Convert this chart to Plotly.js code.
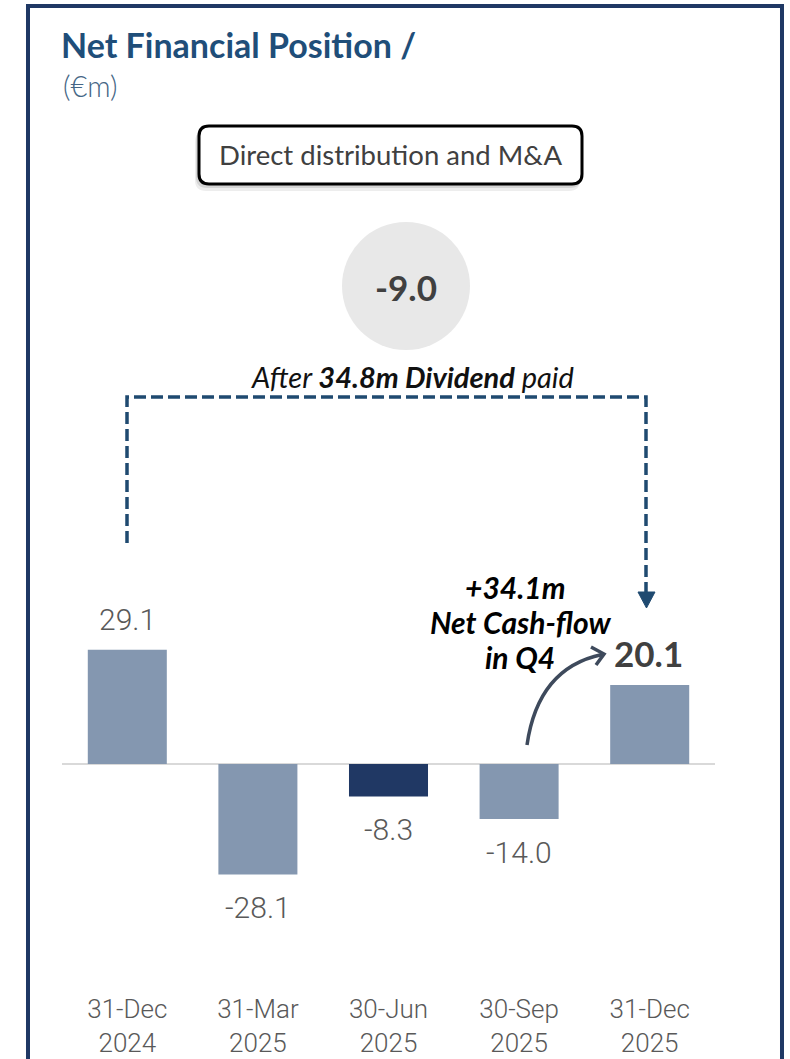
<!DOCTYPE html>
<html>
<head>
<meta charset="utf-8">
<script src="https://cdn.plot.ly/plotly-3.0.1.min.js"></script>
<style>html,body{margin:0;padding:0;background:#fff;}#chart{width:790px;height:1059px;}</style>
</head>
<body>
<div id="chart"></div>
<script>
// ---- data ----
const categories = ['31-Dec<br>2024', '31-Mar<br>2025', '30-Jun<br>2025', '30-Sep<br>2025', '31-Dec<br>2025'];
const values = [29.1, -28.1, -8.3, -14.0, 20.1];
const valueLabels = ['29.1', '-28.1', '-8.3', '-14.0', '20.1'];
const titleText = 'Net Financial Position /';
const unitText = '(€m)';
const boxText = 'Direct distribution and M&A';
const circleValue = '-9.0';
const dividendText = '<i>After <b>34.8m Dividend</b> paid</i>';
const cashflowLines = ['+34.1m', 'Net Cash-flow', 'in Q4'];

// ---- layout helpers (pixel -> paper) ----
const W = 790, H = 1059;
const X = px => px / W;
const Y = py => 1 - py / H;
function path(cmds) {
  return cmds.map(c => {
    const l = c[0];
    if (l === 'Z') return 'Z';
    if (l === 'H') return 'H' + X(c[1]).toFixed(5);
    if (l === 'V') return 'V' + Y(c[1]).toFixed(5);
    const pts = [];
    for (let i = 1; i < c.length; i += 2) pts.push(X(c[i]).toFixed(5) + ',' + Y(c[i + 1]).toFixed(5));
    return l + pts.join(' ');
  }).join(' ');
}
function roundRect(x0, y0, x1, y1, r) {
  return path([['M', x0 + r, y0], ['H', x1 - r], ['Q', x1, y0, x1, y0 + r], ['V', y1 - r],
    ['Q', x1, y1, x1 - r, y1], ['H', x0 + r], ['Q', x0, y1, x0, y1 - r], ['V', y0 + r],
    ['Q', x0, y0, x0 + r, y0], ['Z']]);
}

const zeroPx = 764, plotBottomPx = 991, pxPerUnit = 3.93;
const yMax = zeroPx / pxPerUnit;
const yMin = -(plotBottomPx - zeroPx) / pxPerUnit;

const lightBar = '#8497b0', darkBar = '#203864';
const barColors = values.map((v, i) => i === 2 ? darkBar : lightBar);

const light = 'Roboto, Lato, sans-serif';
const lato = 'Lato, Open Sans, sans-serif';

const trace = {
  type: 'bar',
  x: categories,
  y: values,
  marker: {color: barColors, line: {width: 0}},
  hoverinfo: 'skip'
};

const valueAnnotations = values.map((v, i) => {
  const last = i === values.length - 1;
  return {
    x: categories[i], y: v, xref: 'x', yref: 'y',
    text: last ? '<b>' + valueLabels[i] + '</b>' : valueLabels[i],
    showarrow: false, xanchor: 'center', yanchor: 'middle',
    xshift: last ? -1 : 0,
    yshift: v >= 0 ? (last ? 32 : 30) : -33,
    font: last ? {family: lato, size: 35, color: '#404040'} : {family: light, size: 30, weight: 300, color: '#595959'}
  };
});

const shapes = [
  {type: 'path', xref: 'paper', yref: 'paper', path: path([['M', 28, 1080], ['V', 6], ['H', 782], ['V', 1080]]),
    line: {color: '#1f3864', width: 4}},
  {type: 'path', xref: 'paper', yref: 'paper', path: roundRect(195, 131, 580, 191, 11), fillcolor: 'rgba(0,0,0,0.07)', line: {width: 0}},
  {type: 'path', xref: 'paper', yref: 'paper', path: roundRect(196, 129, 581, 188, 11), fillcolor: 'rgba(0,0,0,0.10)', line: {width: 0}},
  {type: 'path', xref: 'paper', yref: 'paper', path: roundRect(199, 126, 582, 184, 10), fillcolor: '#ffffff', line: {color: '#000000', width: 3}},
  {type: 'circle', xref: 'paper', yref: 'paper', x0: X(342), x1: X(470), y0: Y(350), y1: Y(222), fillcolor: '#e8e8e8', line: {width: 0}},
  {type: 'path', xref: 'paper', yref: 'paper', path: path([['M', 127, 543], ['V', 397], ['H', 646], ['V', 594]]),
    line: {color: '#1f4a70', width: 3.5, dash: '12px,5px'}},
  {type: 'path', xref: 'paper', yref: 'paper', path: path([['M', 638, 592], ['L', 655, 592], ['L', 646.5, 608], ['Z']]),
    fillcolor: '#1f4a70', line: {color: '#1f4a70', width: 1}},
  {type: 'path', xref: 'paper', yref: 'paper', path: path([['M', 527, 745], ['Q', 538, 668, 602, 654.5]]),
    line: {color: '#3e4a5c', width: 3.5}},
  {type: 'path', xref: 'paper', yref: 'paper', path: path([['M', 591, 647], ['L', 604, 654], ['L', 596, 665]]),
    line: {color: '#3e4a5c', width: 3.5}}
];

const cashflowPos = [[515, 587], [520, 622], [520, 657]];
const cashflowAnnotations = cashflowLines.map((t, i) => ({
  xref: 'paper', yref: 'paper', x: X(cashflowPos[i][0]), y: Y(cashflowPos[i][1]), xanchor: 'center', yanchor: 'middle',
  showarrow: false, text: '<b><i>' + t + '</i></b>', font: {family: lato, size: 30, color: '#000000'}
}));

const textAnnotations = [
  {xref: 'paper', yref: 'paper', x: X(61), y: Y(85), xanchor: 'left', yanchor: 'middle', showarrow: false,
    text: unitText, font: {family: lato, size: 29, weight: 300, color: '#456685'}},
  {xref: 'paper', yref: 'paper', x: X(390.5), y: Y(155), xanchor: 'center', yanchor: 'middle', showarrow: false,
    text: boxText, font: {family: lato, size: 27.5, color: '#404040'}},
  {xref: 'paper', yref: 'paper', x: X(406), y: Y(287), xanchor: 'center', yanchor: 'middle', showarrow: false,
    text: '<b>' + circleValue + '</b>', font: {family: lato, size: 35, color: '#404040'}},
  {xref: 'paper', yref: 'paper', x: X(412), y: Y(376), xanchor: 'center', yanchor: 'middle', showarrow: false,
    text: dividendText, font: {family: lato, size: 29, color: '#111111'}}
].concat(cashflowAnnotations);

const layout = {
  width: W, height: H, autosize: false,
  margin: {l: 0, r: 0, t: 0, b: 0, pad: 0},
  paper_bgcolor: '#ffffff', plot_bgcolor: 'rgba(0,0,0,0)',
  showlegend: false,
  bargap: 0.395,
  title: {text: '<b>' + titleText + '</b>', xref: 'container', yref: 'container', x: X(61), xanchor: 'left',
    y: Y(46), yanchor: 'middle', font: {family: lato, size: 34, color: '#1f4e79'}},
  xaxis: {type: 'category', domain: [X(62), X(715)], range: [-0.5, 4.5], showgrid: false, showline: false,
    zeroline: false, ticks: '', tickfont: {family: light, size: 26, weight: 300, color: '#595959'}, fixedrange: true},
  yaxis: {domain: [Y(plotBottomPx), 1], range: [yMin, yMax], showgrid: false, showline: false, showticklabels: false,
    ticks: '', zeroline: true, zerolinecolor: '#d9d9d9', zerolinewidth: 2, fixedrange: true},
  shapes: shapes,
  annotations: valueAnnotations.concat(textAnnotations)
};

Plotly.newPlot('chart', [trace], layout, {displayModeBar: false, staticPlot: true});
</script>
</body>
</html>
